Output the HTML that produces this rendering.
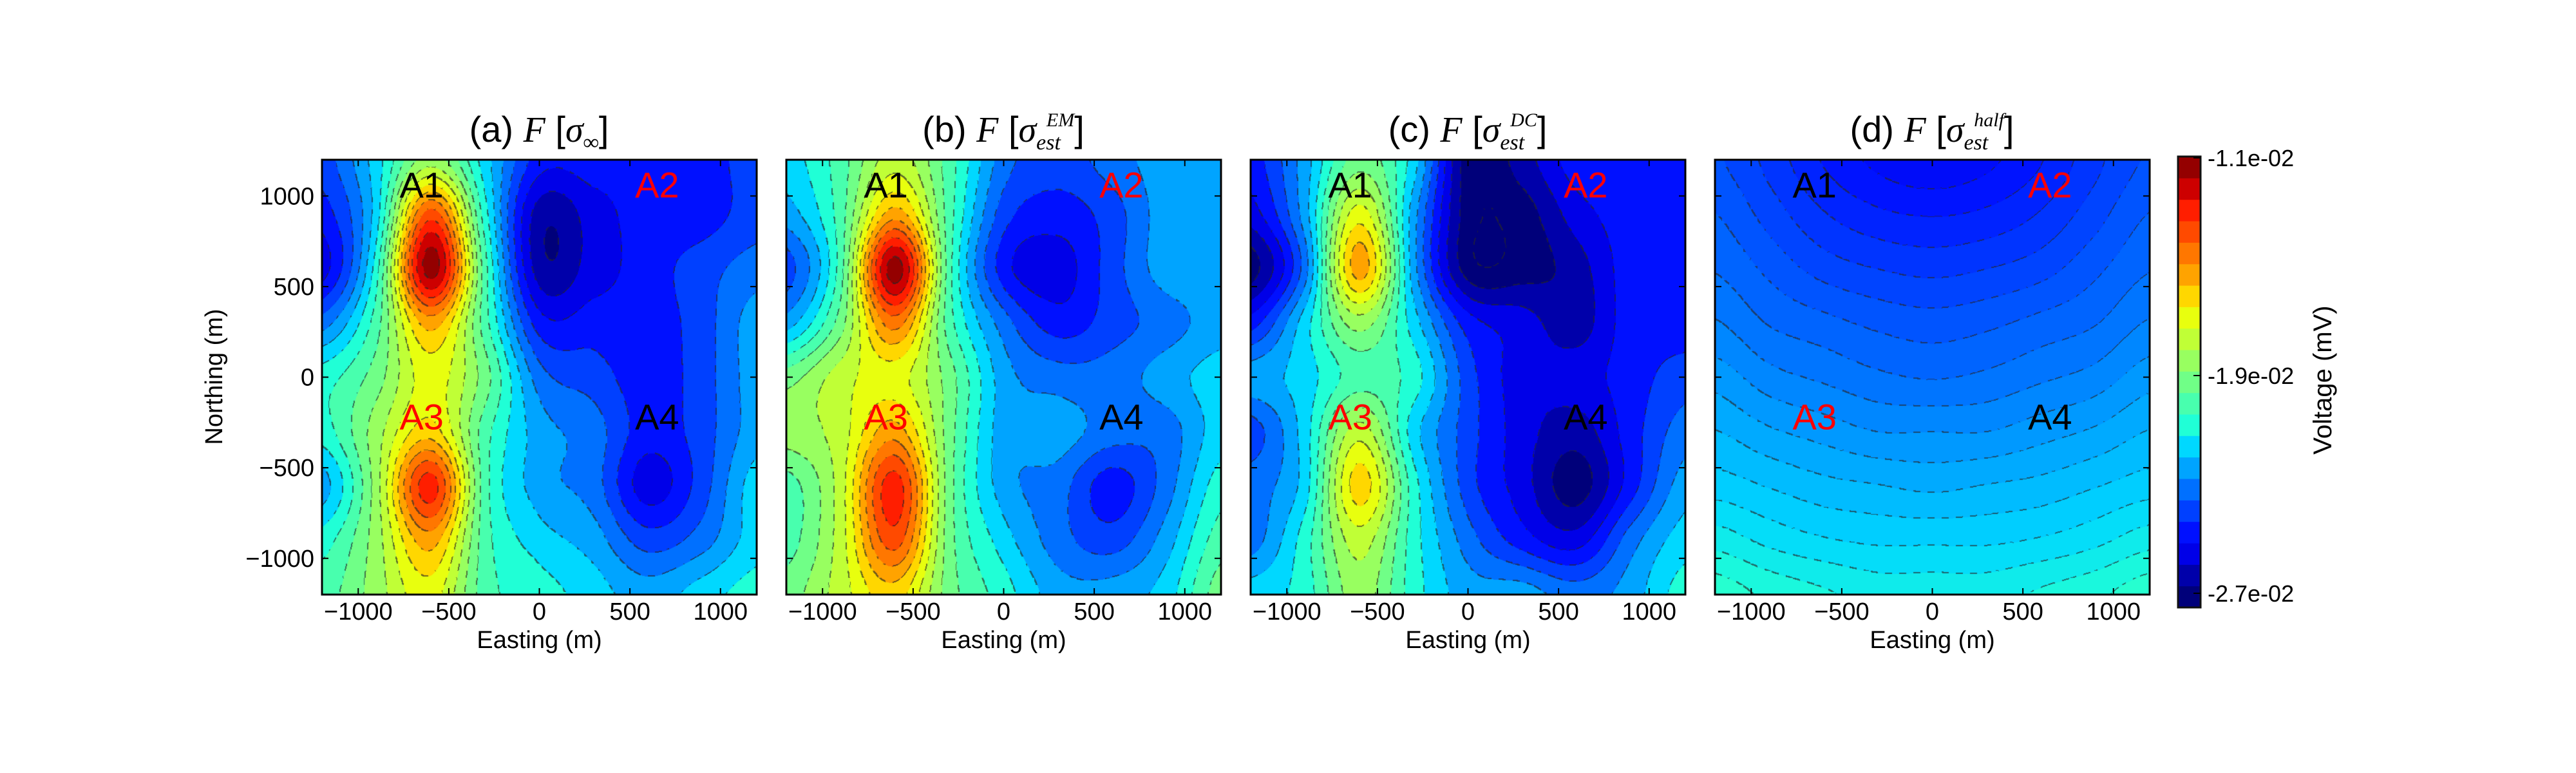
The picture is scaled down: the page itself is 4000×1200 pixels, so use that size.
<!DOCTYPE html>
<html><head><meta charset="utf-8">
<style>
html,body{margin:0;padding:0;background:#fff;}
body{width:4000px;height:1200px;position:relative;overflow:hidden;font-family:"Liberation Sans","DejaVu Sans",sans-serif;}
canvas{position:absolute;}
.title{position:absolute;font-size:56px;white-space:nowrap;transform:translateX(-50%);top:168px;color:#000;}
.title i{font-family:"Liberation Serif",serif;}
.title sub{font-size:34px;font-family:"Liberation Serif",serif;font-style:italic;vertical-align:-12px;}
.title sup{font-size:30px;font-family:"Liberation Serif",serif;font-style:italic;vertical-align:24px;margin-left:-22px;}
</style></head>
<body>
<canvas id="cA" width="675" height="675" style="left:500px;top:248px"></canvas>
<canvas id="cB" width="675" height="675" style="left:1221px;top:248px"></canvas>
<canvas id="cC" width="675" height="675" style="left:1942px;top:248px"></canvas>
<canvas id="cD" width="675" height="675" style="left:2663px;top:248px"></canvas>

<div class="title" style="left:837px">(a) <i>F</i> [<i>σ</i><sub>∞</sub>]</div>
<div class="title" style="left:1558px">(b) <i>F</i> [<i>σ</i><sub>est</sub><sup>EM</sup>]</div>
<div class="title" style="left:2279px">(c) <i>F</i> [<i>σ</i><sub>est</sub><sup>DC</sup>]</div>
<div class="title" style="left:3000px">(d) <i>F</i> [<i>σ</i><sub>est</sub><sup>half</sup>]</div>

<svg id="ov" width="4000" height="1200" style="position:absolute;left:0;top:0" xmlns="http://www.w3.org/2000/svg"></svg>

<script>
// grid coordinates (m)
const gridX = [-1200,-900,-600,-300,0,300,600,900,1200];
const gridY = [1200,900,600,300,0,-300,-600,-900,-1200];
const xTicks = [-1000,-500,0,500,1000];
const yTicks = [1000,500,0,-500,-1000];
const cbTickLabels = ["-1.1e-02","-1.9e-02","-2.7e-02"];
const cbTickLevels = [20,10,0];
// field values in colour-level units (0 = -2.7e-02 mV, 20 = -1.1e-02 mV)
const levelA = [
 [4,7,11,7,3,3,3,3,4],
 [3,7,17,8,1,2,3,3,4],
 [2,8,20,9,1,2,3,4,5],
 [5,9,15,9,3,3,3,4,6],
 [8,10,13,10,5,4,3,4,6],
 [8,11,14,9,6,5,3,4,6],
 [6,11,18,9,6,5,2,4,7],
 [8,11,15,9,7,6,4,5,7],
 [9,11,13,9,8,7,6,7,8]];
const levelB = [
 [7,9,12,9,5,4,5,6,6],
 [6,9,15,9,4,3,4,6,6],
 [4,9,20,9,3,2,4,6,6],
 [6,10,16,9,5,3,4,5,6],
 [10,12,13,10,6,5,5,6,7],
 [11,12,15,10,6,6,5,5,7],
 [9,12,18,10,6,5,3,5,8],
 [9,12,17,10,7,5,4,6,9],
 [10,12,14,10,8,6,6,7,10]];
const levelC = [
 [3,6,10,7,0,1,3,3,3],
 [2,6,13,6,0,0,2,3,3],
 [0,5,15,6,0,0,1,3,3],
 [3,7,11,7,3,2,1,3,3],
 [6,7,9,8,4,2,2,3,4],
 [4,7,12,7,4,2,1,3,5],
 [5,7,14,8,4,2,0,3,6],
 [5,8,12,8,5,3,2,5,7],
 [7,8,11,8,6,6,5,6,8]];
const levelD = [
 [4.3,3.8,3.2,2.8,2.6,2.8,3.2,3.8,4.3],
 [4.6,4.1,3.6,3.3,3.2,3.3,3.6,4.1,4.6],
 [4.9,4.5,4.1,3.9,3.8,3.9,4.1,4.5,4.9],
 [5.3,4.9,4.7,4.5,4.4,4.5,4.7,4.9,5.3],
 [5.8,5.4,5.2,5.0,4.9,5.0,5.2,5.4,5.8],
 [6.3,6.0,5.8,5.6,5.6,5.6,5.8,6.0,6.3],
 [6.8,6.6,6.4,6.3,6.2,6.3,6.4,6.6,6.8],
 [7.5,7.2,7.0,6.9,6.9,6.9,7.0,7.2,7.5],
 [8.2,7.9,7.7,7.5,7.5,7.5,7.7,7.9,8.2]];
const anomalyNames = ["A1","A2","A3","A4"];
const anomalyX = [-650,650,-650,650];
const anomalyY = [1000,1000,-280,-280];
const anomalyRed = [[false,true,true,false],[false,true,true,false],[false,true,true,false],[false,true,true,false]];

const colors = ["#00007a","#0000aa","#0000e8","#0010ff","#0040ff","#0070ff","#00a4ff","#00d8ff","#20ffd6","#48ffae","#70ff87","#98ff60","#c0ff36","#e8ff0e","#ffd700","#ffa300","#ff7700","#ff4a00","#ff1e00","#cd0000","#940000"];
const rgb = colors.map(c=>[parseInt(c.substr(1,2),16),parseInt(c.substr(3,2),16),parseInt(c.substr(5,2),16)]);
function colAt(L){L=Math.max(0,Math.min(20,L));const i=Math.min(19,Math.floor(L)),f=L-i;
 return [0,1,2].map(k=>rgb[i][k]*(1-f)+rgb[i+1][k]*f);}
function cub(p0,p1,p2,p3,t){return p1+0.5*t*(p2-p0+t*(2*p0-5*p1+4*p2-p3+t*(3*(p1-p2)+p3-p0)));}
function sample(g,u,v){
 const n=g.length-1;const i=Math.min(n-1,Math.floor(u)),j=Math.min(n-1,Math.floor(v));
 const tu=u-i,tv=v-j;const cl=k=>Math.max(0,Math.min(n,k));
 const rows=[];
 for(let r=-1;r<3;r++){const row=g[cl(j+r)];rows.push(cub(row[cl(i-1)],row[cl(i)],row[cl(i+1)],row[cl(i+2)],tu));}
 return cub(rows[0],rows[1],rows[2],rows[3],tv);}
function draw(id,g,step,discrete){
 const cv=document.getElementById(id),ctx=cv.getContext('2d');const W=675,H=675;
 const img=ctx.createImageData(W,H);const q=new Float32Array(W*H);
 for(let y=0;y<H;y++)for(let x=0;x<W;x++){
  const val=sample(g,x/(W-1)*(gridX.length-1),y/(H-1)*(gridY.length-1));
  q[y*W+x]=Math.floor(val/step+0.5);}
 for(let y=0;y<H;y++)for(let x=0;x<W;x++){
  const k=y*W+x;const L=discrete?q[k]:q[k]*step;let c=colAt(L);
  const b=(x+2<W&&q[k]!==q[k+2])||(y+2<H&&q[k]!==q[k+2*W]);
  if(b&&(((Math.floor(x/11)+Math.floor(y/11))&1)===0)){c=c.map(v=>v*0.35+40*0.65);}
  img.data[4*k]=c[0];img.data[4*k+1]=c[1];img.data[4*k+2]=c[2];img.data[4*k+3]=255;}
 ctx.putImageData(img,0,0);}
draw('cA',levelA,1,true);
draw('cB',levelB,1,true);
draw('cC',levelC,1,true);
draw('cD',levelD,0.34,false);

const NS="http://www.w3.org/2000/svg";const ov=document.getElementById('ov');
function mk(tag,attrs,parent){const e=document.createElementNS(NS,tag);for(const k in attrs)e.setAttribute(k,attrs[k]);(parent||ov).appendChild(e);return e;}
const panelLeft=[500,1221,1942,2663];const panelTop=248,S=675;const letters=['a','b','c','d'];
panelLeft.forEach((L,p)=>{
 const g=mk('g',{});
 
 
 const sx=x=>L+(x+1200)/2400*S, sy=y=>panelTop+(1200-y)/2400*S;
 xTicks.forEach(t=>{
  const l1=mk('line',{x1:sx(t),x2:sx(t),y1:panelTop+S,y2:panelTop+S-10,stroke:'#000','stroke-width':2},g);
  
  
  mk('line',{x1:sx(t),x2:sx(t),y1:panelTop,y2:panelTop+10,stroke:'#000','stroke-width':2},g);
  const tx=mk('text',{x:sx(t),y:962,'font-size':38,'text-anchor':'middle'},g);
  tx.textContent=(t<0?'\u2212'+(-t):''+t);
  
  
 });
 yTicks.forEach(t=>{
  mk('line',{x1:L,x2:L+10,y1:sy(t),y2:sy(t),stroke:'#000','stroke-width':2},g);
  mk('line',{x1:L+S,x2:L+S-10,y1:sy(t),y2:sy(t),stroke:'#000','stroke-width':2},g);
  if(p===0){const ty=mk('text',{x:L-12,y:sy(t)+13,'font-size':38,'text-anchor':'end'},g);
   ty.textContent=(t<0?'\u2212'+(-t):''+t);
   
   }
 });
 anomalyNames.forEach((n,i)=>{
  const a=mk('text',{x:sx(anomalyX[i]),y:sy(anomalyY[i])+2,'font-size':56,'text-anchor':'middle',fill:anomalyRed[p][i]?'#ff0000':'#000'},g);
  a.textContent=n;
  
  
 });
 const fr=mk('rect',{x:L,y:panelTop,width:S,height:S,fill:'none',stroke:'#000','stroke-width':3},g);
 
 
 const xl=mk('text',{x:L+S/2,y:1006,'font-size':38,'text-anchor':'middle'},g);
 xl.textContent='Easting (m)';
 
 
});
const yl=mk('text',{x:0,y:0,'font-size':38,'text-anchor':'middle',transform:'translate(345,585) rotate(-90)'});
yl.textContent='Northing (m)';


// colorbar
const cbX=3382,cbW=35,cbTop=243,cbH=700,seg=cbH/21;
const cb=mk('g',{});


colors.forEach((c,i)=>{
 const r=mk('rect',{x:cbX,y:cbTop+(20-i)*seg,width:cbW,height:seg+0.5,fill:c},cb);
 
 
});
mk('rect',{x:cbX,y:cbTop,width:cbW,height:cbH,fill:'none',stroke:'#111','stroke-width':3},cb);
const cbY=L=>cbTop+2+(20-L)/20*(921-cbTop-2);
cbTickLevels.forEach((L,i)=>{
 mk('line',{x1:cbX+cbW-11,x2:cbX+cbW,y1:cbY(L),y2:cbY(L),stroke:'#000','stroke-width':2},cb);
 const t=mk('text',{x:3428,y:cbY(L)+13,'font-size':36},cb);
 t.textContent=cbTickLabels[i];
 
 
});
const vl=mk('text',{x:0,y:0,'font-size':40,'text-anchor':'middle',transform:'translate(3620,590) rotate(-90)'});
vl.textContent='Voltage (mV)';


</script>
</body></html>
